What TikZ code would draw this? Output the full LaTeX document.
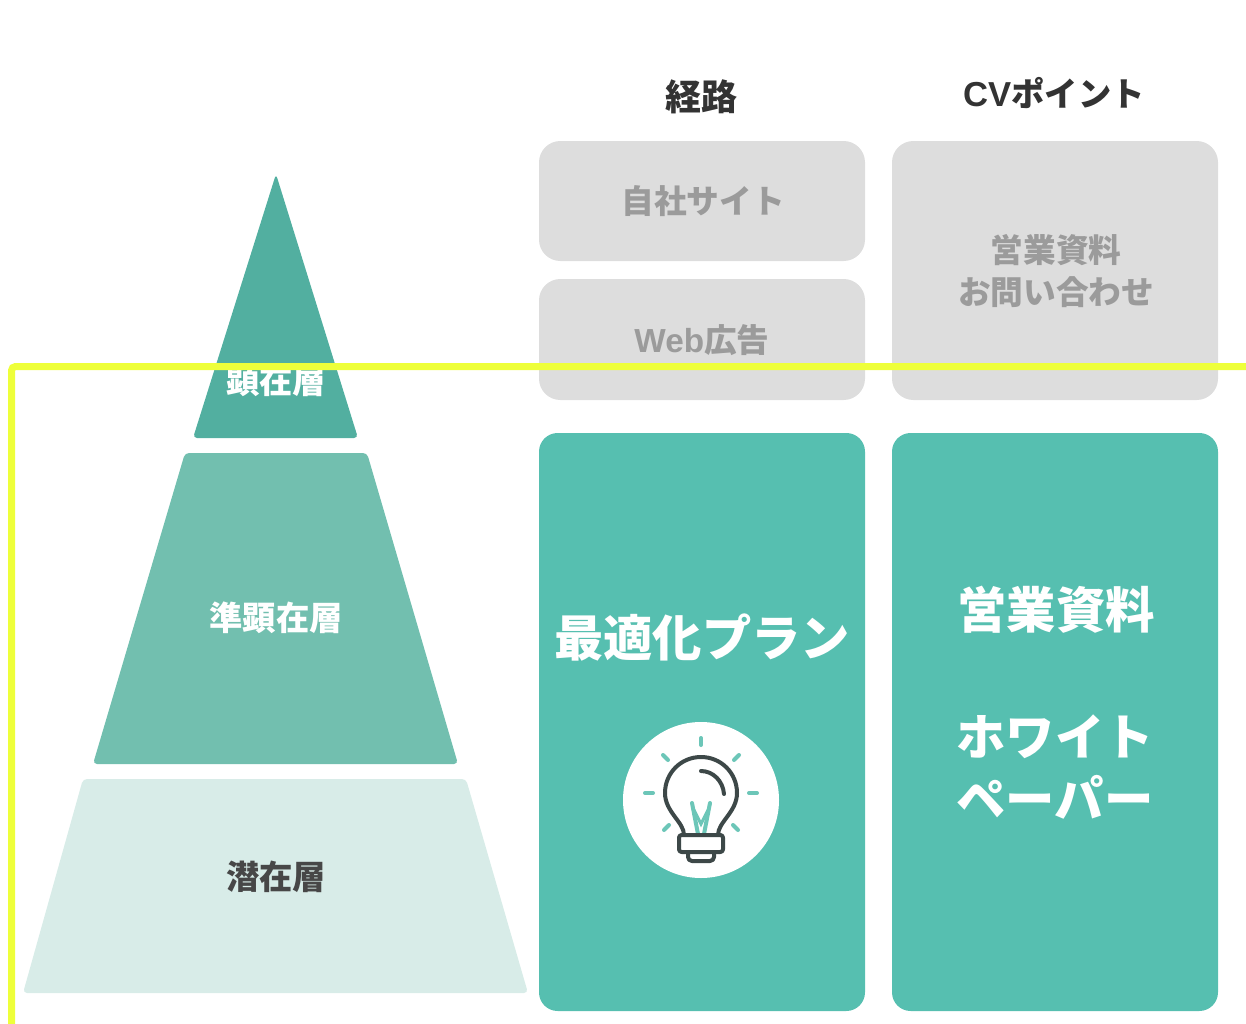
\documentclass[tikz,border=0pt]{standalone}
\usepackage{fontspec}
\newfontfamily\jp{Noto Sans CJK JP}
\newfontfamily\lat{Liberation Sans}
\definecolor{tealbox}{HTML}{56BFB0}
\definecolor{pyrtop}{HTML}{52AFA0}
\definecolor{pyrmid}{HTML}{72BFAF}
\definecolor{pyrbot}{HTML}{D8ECE8}
\definecolor{boxgrey}{HTML}{DDDDDD}
\definecolor{txtgrey}{HTML}{9B9B9B}
\definecolor{headtxt}{HTML}{333333}
\definecolor{bottxt}{HTML}{474747}
\definecolor{yel}{HTML}{EEFF3A}
\definecolor{bulbdark}{HTML}{3D4848}
\definecolor{raycol}{HTML}{6CC6B8}
\begin{document}
\begin{tikzpicture}[x=0.75pt,y=-0.75pt,
  greybox/.style={fill=boxgrey, rounded corners=16pt, minimum width=244.5pt, inner sep=0pt},
  tbox/.style={fill=tealbox, rounded corners=14pt, minimum width=244.5pt, minimum height=433.5pt, inner sep=0pt},
  headfont/.style={text=headtxt, font=\jp\bfseries\fontsize{27}{32}\selectfont},
  greytxt/.style={text=txtgrey, font=\jp\bfseries\fontsize{24.5}{31.5}\selectfont, align=center},
  bigtxt/.style={text=white, font=\jp\bfseries\fontsize{37}{44}\selectfont},
  pyrtxt/.style={font=\jp\bfseries\fontsize{25}{30}\selectfont},
  layer/.style={rounded corners=3pt},
  ray/.style={draw=raycol, line width=3pt, line cap=round},
  bulb/.style={draw=bulbdark, line width=3pt, line cap=round, line join=round}]
\useasboundingbox (0,0) rectangle (1246,1024);

% headers
\node[headfont] (h1) at (701,97) {経路};
\node[headfont, font=\jp\bfseries\fontsize{25}{30}\selectfont] (h2) at (1054,93) {{\lat\bfseries\fontsize{26}{30}\selectfont CV}ポイント};

% grey boxes
\node[greybox, minimum height=90pt] (g1) at (702,201) {};
\node[greytxt] (g1t) at (703,201) {自社サイト};
\node[greybox, minimum height=90.75pt] (g2) at (702,339.5) {};
\node[greytxt] (g2t) at (702,340) {{\lat\bfseries\fontsize{25}{30}\selectfont Web}広告};
\node[greybox, minimum height=194.25pt] (g3) at (1055,270.5) {};
\node[greytxt] (g3t) at (1056,271) {営業資料\\お問い合わせ};

% teal boxes
\node[tbox] (t1) at (702,722) {};
\node[tbox] (t2) at (1055,722) {};
\node[bigtxt] (t1t) at (702,638) {最適化プラン};
\node[bigtxt] (t2a) at (1056,610) {営業資料};
\node[bigtxt] (t2b) at (1055,737) {ホワイト};
\node[bigtxt] (t2c) at (1055,797) {ペーパー};

% light bulb icon
\fill[white] (701,800) circle (78);
\draw[ray] (701,738) -- (701,745);
\draw[ray] (663,755) -- (668,760);
\draw[ray] (739,755) -- (734,760);
\draw[ray] (645,793) -- (653,793);
\draw[ray] (749,793) -- (757,793);
\draw[ray] (664,830) -- (669,825);
\draw[ray] (738,830) -- (733,825);
% filament
\draw[ray, line width=3pt] (692,803) -- (698,834);
\draw[ray, line width=3pt] (710,803) -- (704,834);
\draw[ray, line width=2.2pt] (694,810) -- (701,824) -- (708,810);
% glass
\draw[bulb] (684,835) .. controls (684,822) and (665,812) .. (665,793)
  .. controls (665,773) and (681,757) .. (701,757)
  .. controls (721,757) and (737,773) .. (737,793)
  .. controls (737,812) and (718,822) .. (718,835);
\draw[bulb] (701,771) .. controls (713,771) and (723,781) .. (724,794);
% base
\draw[bulb, rounded corners=2pt] (679,835) rectangle (723,852);
\draw[bulb, rounded corners=3pt] (688,852) -- (688,861) -- (714,861) -- (714,852);

% pyramid
\fill[pyrtop, layer] (276,174) -- (358,438) -- (193,438) -- cycle;
\fill[pyrmid, layer] (185,453) -- (367,453) -- (458,764) -- (93,764) -- cycle;
\fill[pyrbot, layer] (83,779) -- (466,779) -- (528,993) -- (23,993) -- cycle;
\node[pyrtxt, text=white] (p1) at (276,381) {顕在層};
\node[pyrtxt, text=white] (p2) at (276,618) {準顕在層};
\node[pyrtxt, text=bottxt] (p3) at (276,877) {潜在層};

% yellow frame line
\draw[yel, line width=5.25pt, rounded corners=3pt] (11.5,1024) -- (11.5,366.5) -- (1246,366.5);
\end{tikzpicture}
\end{document}
